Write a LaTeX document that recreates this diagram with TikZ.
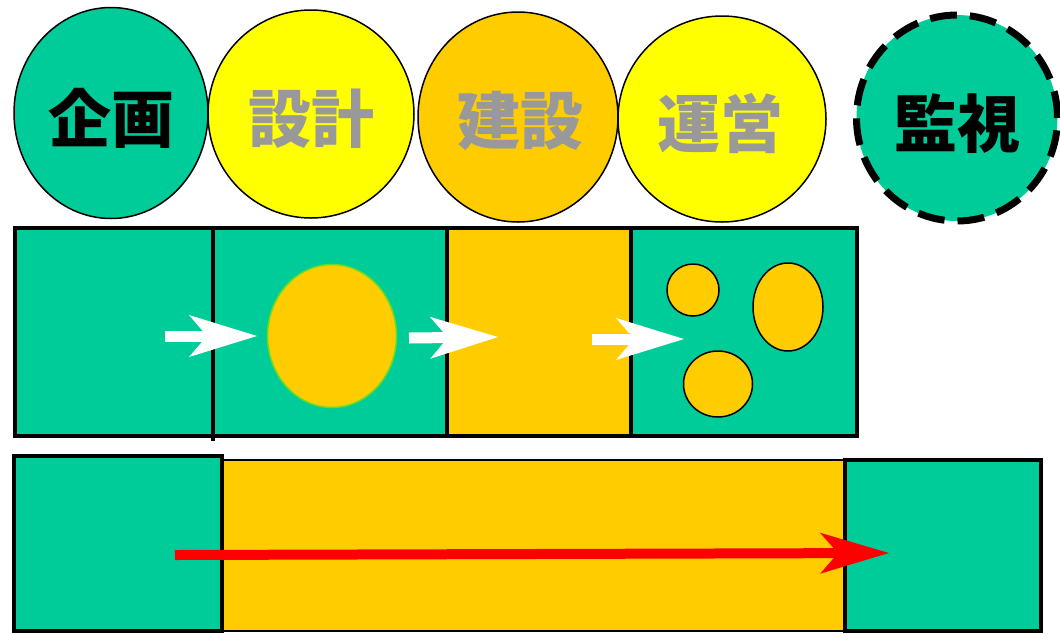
\documentclass[tikz,border=0pt]{standalone}
\usepackage{fontspec}
\newfontfamily\cjk{Noto Sans CJK JP}
\usetikzlibrary{shapes.geometric,arrows.meta}
\definecolor{grn}{HTML}{00CC99}
\definecolor{ylw}{HTML}{FFFF00}
\definecolor{org}{HTML}{FFCC00}
\definecolor{gry}{HTML}{999999}
\definecolor{rd}{HTML}{FF0000}
\definecolor{lgrn}{HTML}{66DD22}
\begin{document}
\begin{tikzpicture}[x=1pt,y=-1pt,
  phase/.style={ellipse,draw=black,line width=1.5pt,inner sep=0pt},
  lbl/.style={font=\cjk\bfseries\fontsize{63}{63}\selectfont,inner sep=0pt},
  blob/.style={ellipse,draw=black,line width=1.5pt,fill=org,inner sep=0pt},
  panel/.style={rectangle,inner sep=0pt,outer sep=0pt,anchor=north west},
  flow/.style={draw=white,line width=11pt,-{Stealth[length=68pt,width=42pt,inset=18pt,line width=0pt]}},
  redflow/.style={draw=rd,line width=10pt,-{Stealth[length=69pt,width=41pt,inset=18pt,line width=0pt]}}
]
\useasboundingbox (0,0) rectangle (1060,633);
% top row
\node[phase,fill=grn,minimum width=194pt,minimum height=211pt] (c1) at (111,113) {};
\node[phase,fill=ylw,minimum width=206pt,minimum height=208pt] (c2) at (311,114) {};
\node[phase,fill=org,minimum width=200pt,minimum height=210pt] (c3) at (518,117) {};
\node[phase,fill=ylw,minimum width=208pt,minimum height=206pt] (c4) at (722,119) {};
\node[ellipse,fill=grn,draw=black,line width=7pt,dash pattern=on 27pt off 13pt,inner sep=0pt,minimum width=201pt,minimum height=206pt] (c5) at (957,118) {};
\node[lbl,text=black] (t1) at (111,118) {企画};
\node[lbl,text=gry] (t2) at (311,119) {設計};
\node[lbl,text=gry] (t3) at (520,121) {建設};
\node[lbl,text=gry] (t4) at (720,123) {運営};
\node[lbl,text=black] (t5) at (957,124) {監視};
% middle row
\node[panel,fill=grn,minimum width=198pt,minimum height=208pt] (p1) at (15,228) {};
\node[panel,fill=grn,minimum width=234pt,minimum height=208pt] (p2) at (213,228) {};
\node[panel,fill=org,minimum width=184pt,minimum height=208pt] (p3) at (447,228) {};
\node[panel,fill=grn,minimum width=226pt,minimum height=208pt] (p4) at (631,228) {};
\node[panel,draw=black,line width=4pt,minimum width=842pt,minimum height=208pt] (frame) at (15,228) {};
\draw[line width=3.5pt] (p2.north west) -- ++(0,213);
\draw[line width=3.5pt] (p3.north west) -- (p3.south west);
\draw[line width=3.5pt] (p4.north west) -- (p4.south west);
\node[ellipse,fill=org,draw=lgrn,line width=1.5pt,inner sep=0pt,minimum width=129pt,minimum height=143pt] (e1) at (332,336) {};
\node[blob,minimum width=52pt,minimum height=52pt] (s1) at (693,290) {};
\node[blob,minimum width=70pt,minimum height=88pt] (s2) at (788,307) {};
\node[blob,minimum width=69pt,minimum height=66pt] (s3) at (718,384) {};
\coordinate (a1s) at (165,336);
\coordinate (a1e) at (257,336);
\coordinate (a2s) at (409,338);
\coordinate (a2e) at (498,337);
\coordinate (a3s) at (592,339);
\coordinate (a3e) at (684,339);
\draw[flow] (a1s) -- (a1e);
\draw[flow] (a2s) -- (a2e);
\draw[flow] (a3s) -- (a3e);
% bottom row
\node[panel,fill=org,draw=black,line width=2.5pt,minimum width=623pt,minimum height=171pt] (b2) at (222,460) {};
\node[panel,fill=grn,draw=black,line width=3.5pt,minimum width=208pt,minimum height=175pt] (b1) at (14,456) {};
\node[panel,fill=grn,draw=black,line width=3.5pt,minimum width=196pt,minimum height=171pt] (b3) at (845,460) {};
\coordinate (r1) at (175,555);
\coordinate (r2) at (889,553);
\draw[redflow] (r1) -- (r2);
\end{tikzpicture}
\end{document}
